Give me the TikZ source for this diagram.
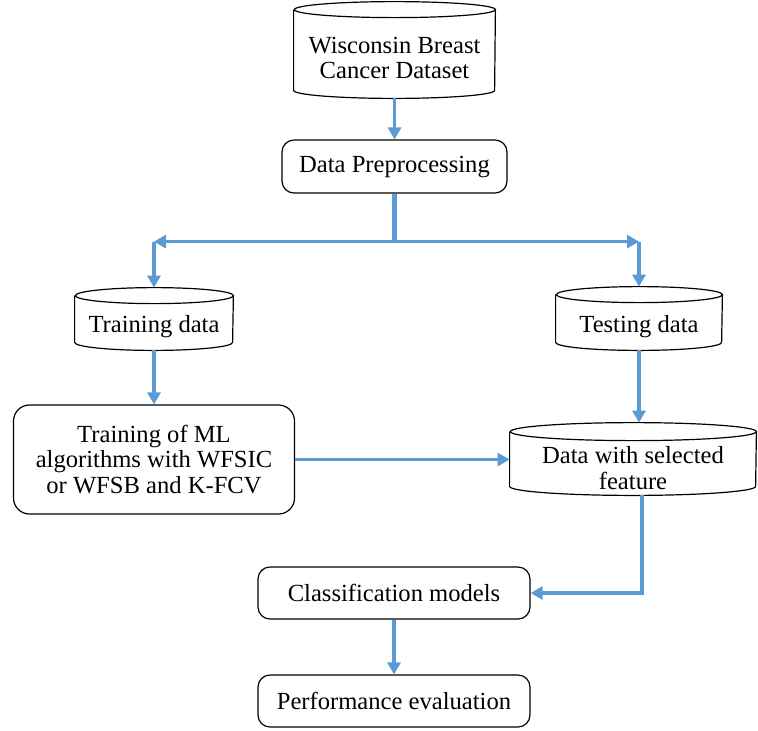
\documentclass[tikz,border=0pt]{standalone}
\usepackage{fontspec}
\setmainfont{Liberation Serif}
\usetikzlibrary{arrows.meta}
\definecolor{flowblue}{HTML}{5B9BD5}

\newcommand\drum[3]{%
  \draw[rim] ([yshift=#3]#1.north west) -- ([yshift=#3]#1.south west)
    arc[start angle=180,end angle=360,x radius=#2,y radius=#3]
    -- ([yshift=#3]#1.north east)
    arc[start angle=0,end angle=360,x radius=#2,y radius=#3];
  \coordinate (#1 top) at ([yshift=2*#3]#1.north);}

\begin{document}
\begin{tikzpicture}[x=0.5pt,y=-0.5pt,
  font=\rmfamily\fontsize{12.3}{12.6}\selectfont,
  box/.style={draw,rounded corners=6pt,line width=0.6pt,align=center,inner sep=0pt},
  db/.style={align=center,inner sep=0pt},
  rim/.style={line width=0.6pt},
  flow/.style={draw=flowblue,line width=1.8pt,-{Triangle[length=6pt,width=6.5pt]}}]
\useasboundingbox (0,0) rectangle (758,730);
\node[db,minimum width=100.5pt,minimum height=40pt] (wbcd) at (394.5,58) {Wisconsin Breast\\Cancer Dataset};
\drum{wbcd}{50.25pt}{4pt}
\node[box,minimum width=112.5pt,minimum height=26.5pt] (prep) at (394.5,166.5) {Data Preprocessing};
\node[db,minimum width=79pt,minimum height=23pt] (train) at (154,327) {Training data};
\drum{train}{39.5pt}{4pt}
\node[db,minimum width=83pt,minimum height=23.5pt] (test) at (639,326.5) {Testing data};
\drum{test}{41.5pt}{4pt}
\node[box,rounded corners=8pt,minimum width=140.5pt,minimum height=54.5pt] (ml) at (154,459.5) {Training of ML\\algorithms with WFSIC\\or WFSB and K-FCV};
\node[db,minimum width=123pt,minimum height=27pt] (feat) at (633,468) {Data with selected\\feature};
\drum{feat}{61.5pt}{4.5pt}
\node[box,minimum width=136pt,minimum height=26pt] (cls) at (394,593) {Classification models};
\node[box,minimum width=136pt,minimum height=26pt] (perf) at (394,701) {Performance evaluation};
\path (prep.south) ++(0,48) coordinate (fork);
\draw[flow] (wbcd.south) -- (prep.north);
\draw[flow,-,line width=2.5pt] (prep.south) -- (fork);
\draw[flow] (fork) -- (fork -| train);
\draw[flow] (fork) -- (fork -| test);
\draw[flow] (fork -| train) -- (train top);
\draw[flow] (fork -| test) -- (test top);
\draw[flow] (train.south) -- (ml.north);
\draw[flow] (test.south) -- (test.south |- feat top);
\draw[flow] (ml.east) -- (ml.east -| feat.west);
\draw[flow] ([xshift=4.5pt]feat.south) |- (cls.east);
\draw[flow] (cls.south) -- (perf.north);
\end{tikzpicture}
\end{document}
